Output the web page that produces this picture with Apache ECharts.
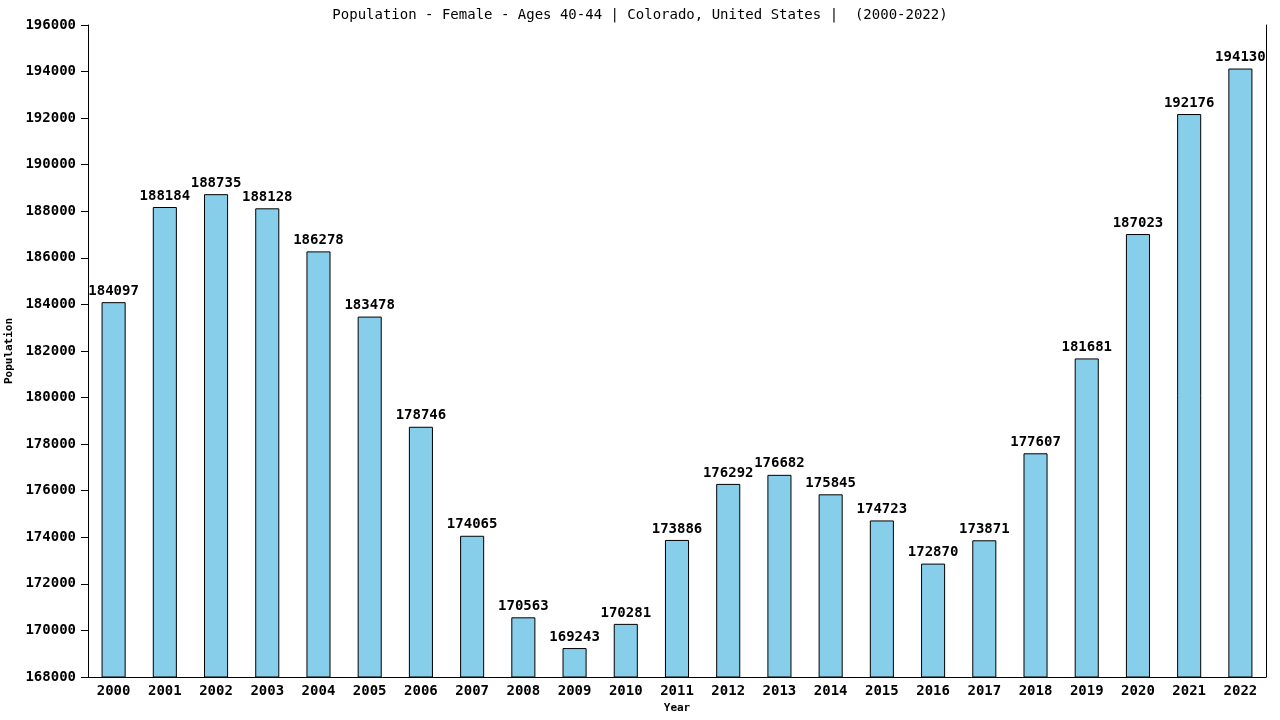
<!DOCTYPE html>
<html>
<head>
<meta charset="utf-8">
<script src="https://cdn.jsdelivr.net/npm/echarts@6/dist/echarts.min.js"></script>
<style>
  html, body { margin: 0; padding: 0; background: #fff; }
  #chart { width: 1280px; height: 720px; }
</style>
</head>
<body>
<div id="chart"></div>
<script>
var years = ['2000','2001','2002','2003','2004','2005','2006','2007','2008','2009','2010','2011',
             '2012','2013','2014','2015','2016','2017','2018','2019','2020','2021','2022'];
var population = [184097,188184,188735,188128,186278,183478,178746,174065,170563,169243,170281,173886,
                  176292,176682,175845,174723,172870,173871,177607,181681,187023,192176,194130];

var mono = 'DejaVu Sans Mono';
var chart = echarts.init(document.getElementById('chart'));

chart.setOption({
    animation: false,
    title: {
        text: 'Population - Female - Ages 40-44 | Colorado, United States |  (2000-2022)',
        left: 'center',
        top: 3,
        textStyle: { fontFamily: mono, fontSize: 14, fontWeight: 'normal', color: '#000' }
    },
    grid: { left: 88, right: 14, top: 25, bottom: 43, containLabel: false, outerBoundsMode: 'none' },
    xAxis: {
        type: 'category',
        data: years,
        name: 'Year',
        nameLocation: 'middle',
        nameGap: 26,
        nameTextStyle: { fontFamily: mono, fontSize: 11, fontWeight: 'bold', color: '#000' },
        axisLine: { lineStyle: { color: '#000', width: 1 } },
        axisTick: { show: false },
        axisLabel: { fontFamily: mono, fontSize: 14, fontWeight: 'bold', color: '#000', margin: 7 }
    },
    yAxis: [{
        type: 'value',
        min: 168000,
        max: 196000,
        interval: 2000,
        name: 'Population',
        nameLocation: 'middle',
        nameGap: 71,
        nameTextStyle: { fontFamily: mono, fontSize: 11, fontWeight: 'bold', color: '#000' },
        axisLine: { show: true, lineStyle: { color: '#000', width: 1 } },
        axisTick: { show: true, length: 7, lineStyle: { color: '#000' } },
        axisLabel: {
            fontFamily: mono, fontSize: 14, fontWeight: 'bold', color: '#000', margin: 12,
            formatter: function (v) { return String(v); }
        },
        splitLine: { show: false }
    }, {
        type: 'value',
        position: 'right',
        min: 168000,
        max: 196000,
        axisLine: { show: true, lineStyle: { color: '#000', width: 1 } },
        axisTick: { show: false },
        axisLabel: { show: false },
        splitLine: { show: false }
    }],
    series: [{
        type: 'bar',
        data: population,
        barWidth: '47%',
        itemStyle: { color: '#87ceeb', borderColor: '#000', borderWidth: 1 },
        label: {
            show: true,
            position: 'top',
            distance: 4,
            fontFamily: mono,
            fontSize: 14,
            fontWeight: 'bold',
            color: '#000'
        }
    }]
});
</script>
</body>
</html>
